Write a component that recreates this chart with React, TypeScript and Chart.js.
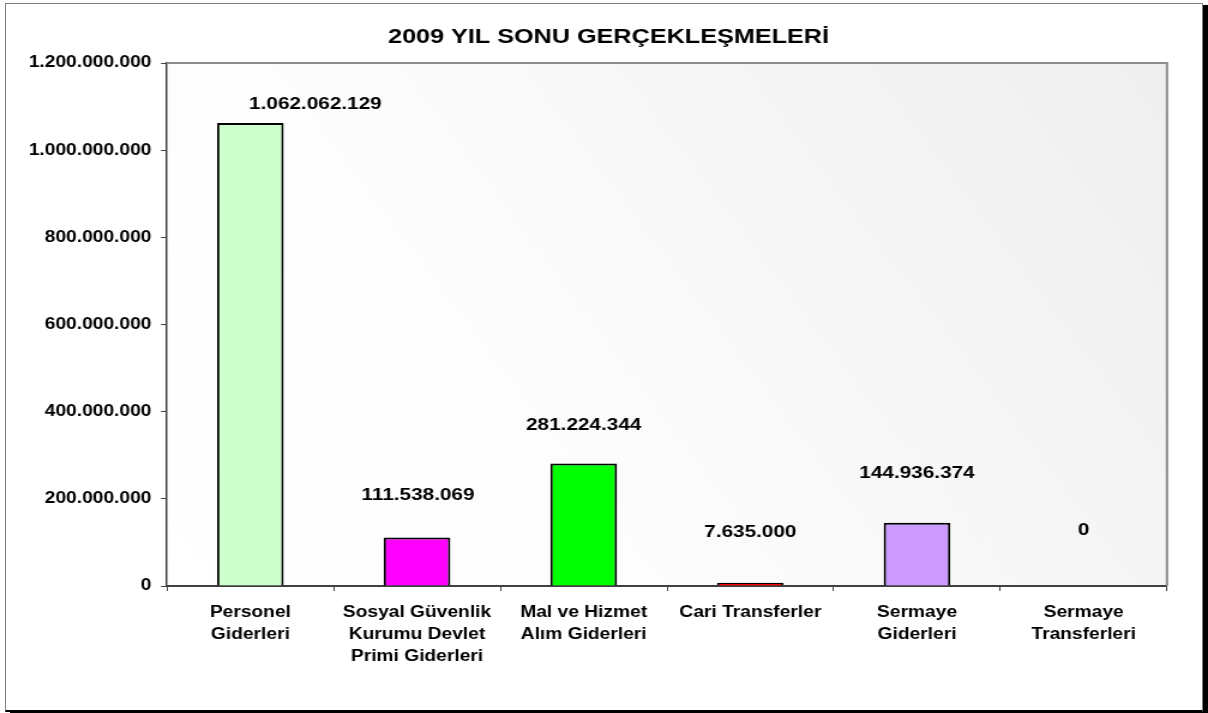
import React, { useEffect, useRef } from "react";
import { Chart, registerables } from "chart.js";

Chart.register(...registerables);

// ---- data ----
const categories: string[][] = [
  ["Personel", "Giderleri"],
  ["Sosyal Güvenlik", "Kurumu Devlet", "Primi Giderleri"],
  ["Mal ve Hizmet", "Alım Giderleri"],
  ["Cari Transferler"],
  ["Sermaye", "Giderleri"],
  ["Sermaye", "Transferleri"],
];
const values: number[] = [1062062129, 111538069, 281224344, 7635000, 144936374, 0];
const barColors: string[] = ["#CCFFCC", "#FF00FF", "#00FF00", "#FF0000", "#CC99FF", "#FFFFFF"];
const titleText = "2009 YIL SONU GERÇEKLEŞMELERİ";
const yMin = 0;
const yMax = 1200000000;
const yStep = 200000000;

// label placement (style): horizontal shift (target px) and gap above bar top
const labelDx: number[] = [65, 1, 0, 0, 0, 0];
const labelDy: number[] = [18.5, 42, 38, 50.5, 49.5, 56];

// ---- layout ----
const OUT_W = 1208;
const OUT_H = 713;
const IN_W = 1007; // canvas drawn narrower and stretched horizontally
const SX = OUT_W / IN_W;
const PLOT_LEFT = 167;
const PLOT_RIGHT = 1167;
const PLOT_TOP = 63;
const PLOT_BOTTOM = 586;
const TITLE_X = 608.5;
const TITLE_Y = 37;
const FONT = "'Liberation Sans', Arial, Helvetica, sans-serif";

const PAD_RIGHT = IN_W - PLOT_RIGHT / SX;

const fmt = (v: number) =>
  String(Math.round(v)).replace(/\B(?=(\d{3})+(?!\d))/g, ".");

const plotDecor = {
  id: "plotDecor",
  beforeDatasetsDraw(chart: any) {
    const { ctx, chartArea: a } = chart;
    ctx.save();
    const g = ctx.createLinearGradient(a.left, a.bottom, a.right, a.top);
    g.addColorStop(0, "#ffffff");
    g.addColorStop(0.35, "#fdfdfd");
    g.addColorStop(1, "#efefef");
    ctx.fillStyle = g;
    ctx.fillRect(a.left + 1, a.top, a.right - a.left - 1, a.bottom - a.top - 1);
    ctx.restore();
  },
  afterDatasetsDraw(chart: any) {
    const { ctx, chartArea: a } = chart;
    ctx.save();
    ctx.strokeStyle = "#8c8c8c";
    ctx.lineWidth = 2;
    ctx.beginPath();
    ctx.moveTo(a.left, a.top);
    ctx.lineTo(a.right, a.top);
    ctx.lineTo(a.right, a.bottom);
    ctx.stroke();
    ctx.restore();

    // title
    ctx.save();
    ctx.font = `bold 21px ${FONT}`;
    ctx.fillStyle = "#000";
    ctx.textAlign = "center";
    ctx.textBaseline = "middle";
    ctx.fillText(titleText, TITLE_X / SX, TITLE_Y);
    ctx.restore();

    // value labels
    const meta = chart.getDatasetMeta(0);
    ctx.save();
    ctx.font = `bold 17.3px ${FONT}`;
    ctx.fillStyle = "#000";
    ctx.textAlign = "center";
    ctx.textBaseline = "middle";
    meta.data.forEach((bar: any, i: number) => {
      const v = chart.data.datasets[0].data[i] as number;
      ctx.fillText(fmt(v), bar.x + labelDx[i] / SX, bar.y - labelDy[i]);
    });
    ctx.restore();
  },
};

export default function App() {
  const ref = useRef<HTMLCanvasElement | null>(null);

  useEffect(() => {
    if (!ref.current) return;
    const chart = new Chart(ref.current, {
      type: "bar",
      data: {
        labels: categories,
        datasets: [
          {
            data: values,
            backgroundColor: barColors,
            borderColor: "#000000",
            borderWidth: 2,
            barPercentage: 0.4,
            categoryPercentage: 1,
          },
        ],
      },
      options: {
        responsive: false,
        maintainAspectRatio: false,
        devicePixelRatio: 1,
        animation: false,
        layout: {
          padding: { left: 0, right: PAD_RIGHT, top: PLOT_TOP, bottom: 0 },
        },
        plugins: {
          legend: { display: false },
          tooltip: { enabled: false },
          title: { display: false },
        },
        scales: {
          x: {
            type: "category",
            grid: {
              display: true,
              drawOnChartArea: false,
              drawTicks: true,
              tickLength: 5,
              color: "#404040",
              lineWidth: 1,
              offset: true,
            },
            border: { display: true, color: "#404040", width: 2 },
            ticks: {
              color: "#000",
              font: { family: FONT, size: 16, weight: "bold", lineHeight: 1.4 },
              padding: 10,
              maxRotation: 0,
              minRotation: 0,
              autoSkip: false,
            },
            afterFit: (s: any) => {
              s.height = OUT_H - PLOT_BOTTOM;
            },
          },
          y: {
            type: "linear",
            min: yMin,
            max: yMax,
            grid: {
              display: true,
              drawOnChartArea: false,
              drawTicks: true,
              tickLength: 5,
              color: "#404040",
              lineWidth: 1,
            },
            border: { display: true, color: "#404040", width: 1.5 },
            ticks: {
              stepSize: yStep,
              color: "#000",
              font: { family: FONT, size: 16, weight: "bold" },
              padding: 8,
              callback: (v: any) => fmt(Number(v)),
            },
            afterFit: (s: any) => {
              s.width = PLOT_LEFT / SX;
            },
          },
        },
      },
      plugins: [plotDecor],
    });
    return () => chart.destroy();
  }, []);

  return (
    <div
      style={{
        position: "absolute",
        left: 0,
        top: 0,
        width: OUT_W,
        height: OUT_H,
        overflow: "hidden",
        background: "#fff",
      }}
    >
      <div
        style={{
          position: "absolute",
          left: 5,
          top: 3,
          width: 1196,
          height: 706,
          borderLeft: "1px solid #808080",
          borderTop: "1px solid #808080",
          borderRight: "1px solid #808080",
          borderBottom: "2px solid #000",
          boxShadow: "5px 2px 0 0 #000",
          background: "#fff",
        }}
      />
      <canvas
        ref={ref}
        width={IN_W}
        height={OUT_H}
        style={{
          position: "absolute",
          left: 0,
          top: 0,
          width: OUT_W + "px",
          height: OUT_H + "px",
        }}
      />
    </div>
  );
}
